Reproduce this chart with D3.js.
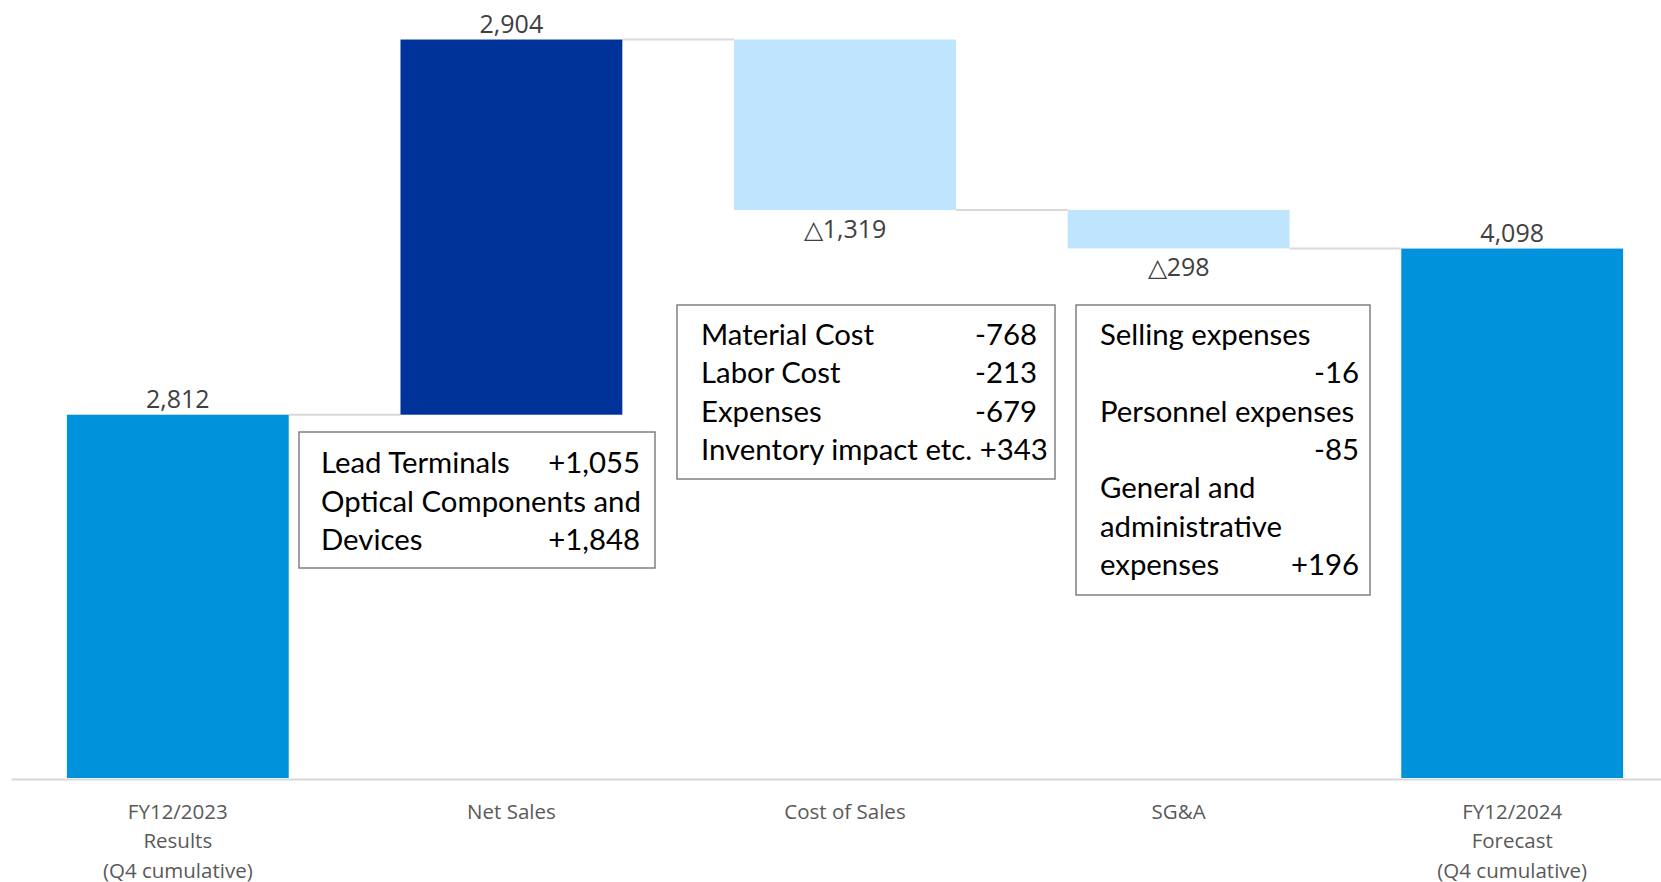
<!DOCTYPE html>
<html>
<head>
<meta charset="utf-8">
<script src="https://cdn.jsdelivr.net/npm/d3@7"></script>
<style>
  html, body { margin: 0; padding: 0; background: #fff; }
  svg { display: block; }
</style>
</head>
<body>
<svg id="chart"></svg>
<script>
// ---- data ----
var categories = ["FY12/2023|Results|(Q4 cumulative)", "Net Sales", "Cost of Sales", "SG&A", "FY12/2024|Forecast|(Q4 cumulative)"];
var kinds      = ["total", "up", "down", "down", "total"];
var amounts    = [2812, 2904, -1319, -298, 4098];
var valueLabels = ["2,812", "2,904", "△1,319", "△298", "4,098"];

var netSalesNotes = [["Lead Terminals", "+1,055"], ["Optical Components and", ""], ["Devices", "+1,848"]];
var costNotes     = [["Material Cost", "-768"], ["Labor Cost", "-213"], ["Expenses", "-679"], ["Inventory impact etc. +343", ""]];
var sgaNotes      = [["Selling expenses", ""], ["", "-16"], ["Personnel expenses", ""], ["", "-85"], ["General and", ""], ["administrative", ""], ["expenses", "+196"]];

var colors = { total: "#0092DA", up: "#003399", down: "#BFE4FE" };

// ---- layout ----
var width = 1661, height = 882;
var svg = d3.select("#chart").attr("width", width).attr("height", height);

var x = d3.scaleBand()
  .domain(categories)
  .range([11, 1679])
  .paddingInner(0.335)
  .paddingOuter(0.1675);

var y = d3.scaleLinear().domain([0, 6022]).range([778, 0]);

// 積み上げの計算
var bars = [];
var running = 0;
categories.forEach(function (c, i) {
  var lo, hi;
  if (kinds[i] === "total") { lo = 0; hi = amounts[i]; running = amounts[i]; }
  else { lo = running; hi = running + amounts[i]; running = hi; }
  bars.push({ cat: c, kind: kinds[i], y0: Math.min(lo, hi), y1: Math.max(lo, hi), end: running, label: valueLabels[i] });
});

// 軸
var axis = svg.append("g")
  .attr("transform", "translate(0," + 779 + ")")
  .call(d3.axisBottom(x).tickSize(0).tickPadding(0));
axis.select(".domain").attr("stroke", "#d9d9d9").attr("stroke-width", 2);
axis.selectAll(".tick text").each(function (d) {
  var t = d3.select(this).text("").attr("y", 0).attr("dy", null)
    .attr("fill", "#595959")
    .style("font-family", "'Open Sans', sans-serif")
    .style("font-size", "20.5px");
  d.split("|").forEach(function (line, k) {
    t.append("tspan").attr("x", 0).attr("y", 40 + k * 29.3).text(line);
  });
});

// コネクタ線
svg.append("g").selectAll("line")
  .data(bars.slice(0, -1))
  .enter().append("line")
    .attr("x1", function (d) { return x(d.cat) + x.bandwidth(); })
    .attr("x2", function (d, i) { return x(bars[i + 1].cat); })
    .attr("y1", function (d) { return y(d.end); })
    .attr("y2", function (d) { return y(d.end); })
    .attr("stroke", "#d9d9d9")
    .attr("stroke-width", 2);

// 棒
svg.append("g").selectAll("rect")
  .data(bars)
  .enter().append("rect")
    .attr("x", function (d) { return x(d.cat); })
    .attr("width", x.bandwidth())
    .attr("y", function (d) { return y(d.y1); })
    .attr("height", function (d) { return y(d.y0) - y(d.y1); })
    .attr("fill", function (d) { return colors[d.kind]; });

// 値ラベル
svg.append("g").selectAll("text")
  .data(bars)
  .enter().append("text")
    .attr("x", function (d) { return x(d.cat) + x.bandwidth() / 2; })
    .attr("y", function (d) { return d.kind === "down" ? y(d.y0) + 28 : y(d.y1) - 7; })
    .attr("text-anchor", "middle")
    .attr("fill", "#404040")
    .style("font-family", "'Open Sans', sans-serif")
    .style("font-size", "25px")
    .text(function (d) { return d.label; });

// 注記ボックス
var boxFont = "Lato, 'Noto Sans', sans-serif";
// 文字幅を参照画像に合わせる
var probe = svg.append("text").style("font-family", boxFont).style("font-size", "30px").text("Optical Components and");
var boxSize = 30 * 320 / probe.node().getComputedTextLength();
probe.remove();

function drawBox(notes, box) {
  var g = svg.append("g");
  g.append("rect")
    .attr("x", box.x).attr("y", box.y)
    .attr("width", box.w).attr("height", box.h)
    .attr("fill", "#fff")
    .attr("stroke", "#808080")
    .attr("stroke-width", 1.5);
  notes.forEach(function (n, i) {
    var by = box.first + i * box.step;
    if (n[0]) g.append("text")
      .attr("x", box.x + box.padL).attr("y", by)
      .attr("fill", "#000")
      .style("font-family", boxFont).style("font-size", boxSize + "px")
      .text(n[0]);
    if (n[1]) g.append("text")
      .attr("x", box.x + box.w - box.padR).attr("y", by)
      .attr("text-anchor", "end")
      .attr("fill", "#000")
      .style("font-family", boxFont).style("font-size", boxSize + "px")
      .text(n[1]);
  });
}

drawBox(netSalesNotes, { x: 299, y: 432, w: 356, h: 136, padL: 22, padR: 15, first: 473, step: 38.6 });
drawBox(costNotes,     { x: 677, y: 305, w: 378, h: 174, padL: 24, padR: 18, first: 345, step: 38.4 });
drawBox(sgaNotes,      { x: 1076, y: 305, w: 294, h: 290, padL: 24, padR: 11, first: 345, step: 38.3 });
</script>
</body>
</html>
